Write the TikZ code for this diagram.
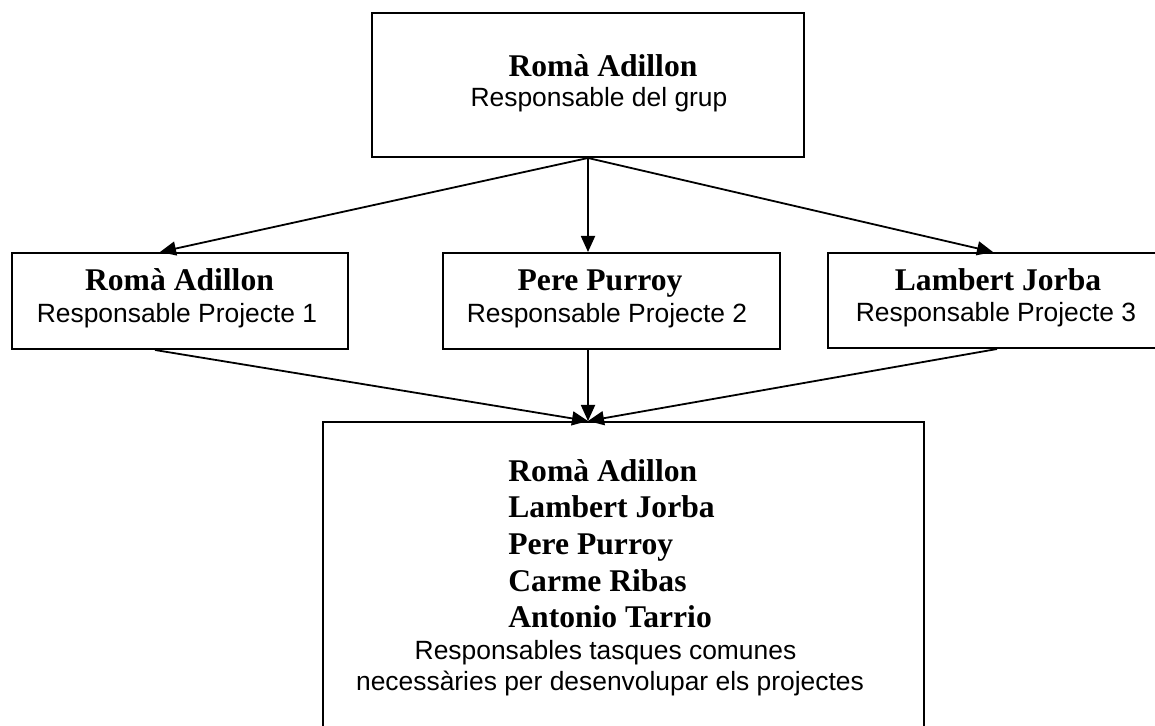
\documentclass[tikz,border=0pt]{standalone}
\usepackage{fontspec}
\setmainfont{Liberation Serif}
\setsansfont{Liberation Sans}
\usetikzlibrary{calc,arrows.meta}
\def\u{0.5pt}
\tikzset{
  box/.style={draw, line width=1pt, inner sep=0pt},
  pname/.style={inner sep=0pt, font=\fontsize{15.8}{18}\selectfont\bfseries},
  prole/.style={inner sep=0pt, font=\sffamily\fontsize{13.2}{15}\selectfont},
  arr/.style={line width=0.9pt, -{Triangle[length=8pt,width=7pt]}}
}

\begin{document}
\begin{tikzpicture}[x=\u, y=-\u]
  \useasboundingbox (0,0) rectangle (1155,726);
  \clip (0,0) rectangle (1155,726);

  % boxes
  \node[box, minimum width=432*\u, minimum height=144*\u] (top) at (588,85) {};
  \node[box, minimum width=336*\u, minimum height=96*\u] (p1) at (180,301) {};
  \node[box, minimum width=337*\u, minimum height=96*\u] (p2) at (611.5,301) {};
  \node[box, minimum width=338*\u, minimum height=95*\u] (p3) at (997,300.5) {};
  \node[box, minimum width=601*\u, minimum height=340*\u] (bot) at (623.5,592) {};

  % texts
  \node[pname, anchor=base] (topname) at (603,77) {Romà Adillon};
  \node[prole, anchor=base] (toprole) at (599,107) {Responsable del grup};
  \node[pname, anchor=base] (p1name) at (179.5,291) {Romà Adillon};
  \node[prole, anchor=base] (p1role) at (177,322.5) {Responsable Projecte 1};
  \node[pname, anchor=base] (p2name) at (600,291) {Pere Purroy};
  \node[prole, anchor=base] (p2role) at (607,322.5) {Responsable Projecte 2};
  \node[pname, anchor=base] (p3name) at (998,291) {Lambert Jorba};
  \node[prole, anchor=base] (p3role) at (996,322) {Responsable Projecte 3};

  \foreach \nm [count=\i from 0] in {Romà Adillon, Lambert Jorba, Pere Purroy, Carme Ribas, Antonio Tarrio}
    \node[pname, anchor=base west] (m\i) at (508,{481+36.7*\i}) {\nm};
  \node[prole, anchor=base] (botrole1) at (605.5,659) {Responsables tasques comunes};
  \node[prole, anchor=base] (botrole2) at (610,690) {necessàries per desenvolupar els projectes};

  % arrows
  \coordinate (join) at (top.south |- bot.north);
  \draw[arr] (top.south) -- ([xshift=-10pt]p1.north);
  \draw[arr] (top.south) -- (top.south |- p2.north);
  \draw[arr] (top.south) -- ([xshift=-2pt]p3.north);
  \draw[arr] ([xshift=-12.5pt]p1.south) -- (join);
  \draw[arr] (top.south |- p2.south) -- (join);
  \draw[arr] (p3.south) -- (join);
\end{tikzpicture}
\end{document}
